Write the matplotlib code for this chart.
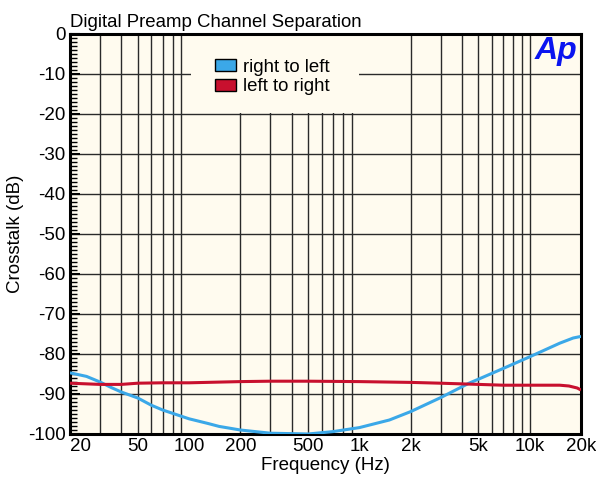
import matplotlib
matplotlib.use("Agg")
import matplotlib.pyplot as plt
from matplotlib.patches import Patch, Rectangle
from matplotlib.ticker import FixedLocator, MultipleLocator, NullFormatter
import numpy as np

plt.rcParams['font.family'] = ['Liberation Sans', 'DejaVu Sans']

freq_rl = [20, 25, 30, 35, 40, 50, 60, 70, 85, 100, 130, 150, 200, 300, 500, 700, 1000,
           1500, 2000, 3000, 4400, 5000, 7000, 10000, 15000, 18000, 20000]
rl_db = [-84.7, -85.6, -87.0, -88.4, -89.5, -91.0, -92.8, -94.0, -95.2, -96.2, -97.4, -98.1,
         -99.0, -99.8, -100.0, -99.4, -98.4, -96.5, -94.4, -90.9, -87.3, -86.3, -83.6,
         -80.7, -77.3, -76.0, -75.6]

freq_lr = [20, 30, 40, 50, 70, 100, 200, 300, 500, 1000, 2000, 3000, 5000, 7000, 10000,
           15000, 17000, 19000, 20000]
lr_db = [-87.3, -87.6, -87.6, -87.3, -87.2, -87.2, -86.9, -86.8, -86.8, -86.9, -87.1, -87.3,
         -87.6, -87.8, -87.8, -87.8, -88.0, -88.5, -89.0]

x_ticks = [20, 50, 100, 200, 500, 1000, 2000, 5000, 10000, 20000]
x_labels = ['20', '50', '100', '200', '500', '1k', '2k', '5k', '10k', '20k']
y_ticks = [0, -10, -20, -30, -40, -50, -60, -70, -80, -90, -100]
y_labels = ['0', '-10', '-20', '-30', '-40', '-50', '-60', '-70', '-80', '-90', '-100']
series_names = ['right to left', 'left to right']
colors = ['#3BA8E8', '#C8102E']

fig = plt.figure(figsize=(5.96, 4.78), dpi=100)
ax = fig.add_axes([70/596, 1-434/478, 511/596, 400/478])
bg = '#FFFBEF'
ax.set_facecolor(bg)
ax.set_xscale('log')
ax.set_xlim(20, 20000)
ax.set_ylim(-100, 0)

grid_x = [f for d in (10, 100, 1000) for f in np.arange(2, 10) * d if 20 < f <= 20000] + [10000]
grid_x = sorted(set([float(f) for f in grid_x if 20 < f < 20000]))
for f in grid_x:
    ax.axvline(f, color='#2a2a2a', lw=1.0, zorder=0.5)
for yv in range(-90, 0, 10):
    ax.axhline(yv, color='#2a2a2a', lw=1.0, zorder=0.5)

ax.add_patch(Rectangle((121/511, 0.803), (288.5-121)/511, 0.2, transform=ax.transAxes,
                       facecolor=bg, edgecolor='none', zorder=1))

ax.plot(freq_rl, rl_db, color=colors[0], lw=2.2, zorder=3, solid_capstyle='butt')
ax.plot(freq_lr, lr_db, color=colors[1], lw=2.2, zorder=3, solid_capstyle='butt')

ax.xaxis.set_major_locator(FixedLocator(x_ticks))
ax.set_xticklabels(x_labels)
ax.xaxis.set_minor_locator(FixedLocator([]))
ax.xaxis.set_minor_formatter(NullFormatter())
ax.set_yticks(y_ticks)
ax.set_yticklabels(y_labels)
ax.yaxis.set_minor_locator(MultipleLocator(1))
ax.tick_params(axis='x', which='both', length=0, labelsize=13.5, pad=3)
ax.tick_params(axis='y', which='major', direction='in', length=7, width=1.5, labelsize=13.5, pad=3)
ax.tick_params(axis='y', which='minor', direction='in', length=5, width=1.0)
first = ax.get_xticklabels()[0]
first.set_horizontalalignment('left')

for s in ax.spines.values():
    s.set_linewidth(2.2)
    s.set_color('black')

ax.set_xlabel('Frequency (Hz)', fontsize=13.5, labelpad=1)
ax.set_ylabel('Crosstalk (dB)', fontsize=13.5, labelpad=3)
fig.text(70/596, 1-27/478, 'Digital Preamp Channel Separation', fontsize=13.4,
         ha='left', va='baseline')

handles = [Patch(facecolor=colors[0], edgecolor='black', lw=1.0),
           Patch(facecolor=colors[1], edgecolor='black', lw=1.0)]
leg = ax.legend(handles, series_names, loc='upper left',
                bbox_to_anchor=(145/511, 1-25/400),
                frameon=False, fontsize=13.4, handlelength=1.15, handleheight=0.62,
                handletextpad=0.35, labelspacing=0.13, borderaxespad=0, borderpad=0)

ax.text(0.993, 0.995, 'Ap', transform=ax.transAxes, ha='right', va='top',
        fontsize=23, fontweight='bold', fontstyle='italic', color='#0A14F0', zorder=5)

fig.savefig('out.png', dpi=100, facecolor='white')
